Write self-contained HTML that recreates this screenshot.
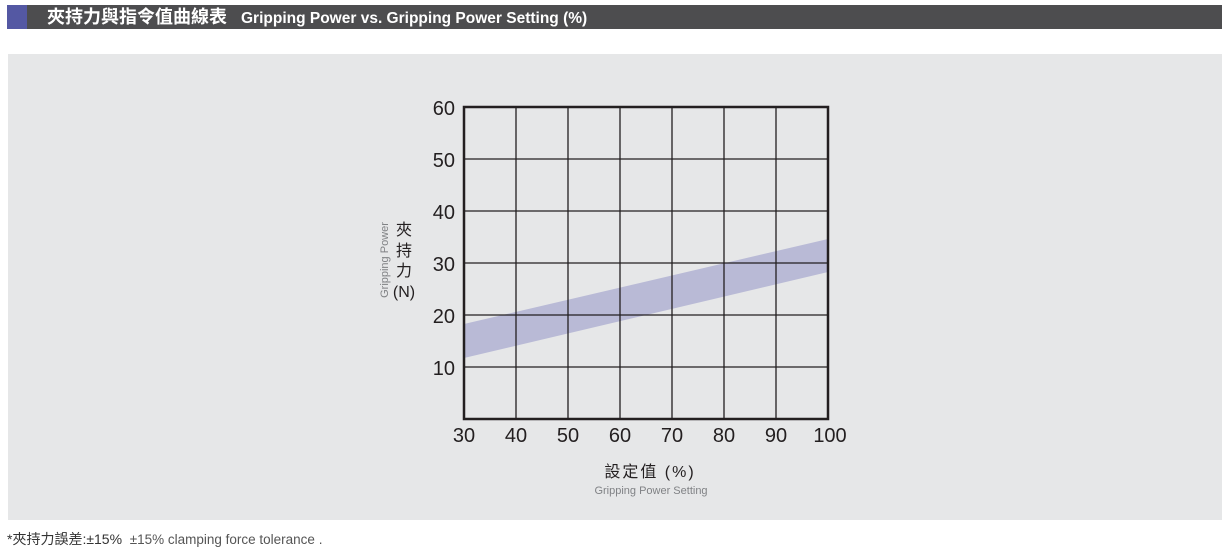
<!DOCTYPE html>
<html><head><meta charset="utf-8"><style>
body{margin:0;width:1229px;height:549px;background:#fff;position:relative;overflow:hidden;font-family:"Liberation Sans","Noto Sans CJK TC",sans-serif}
.hdr{position:absolute;left:7px;top:5px;width:1215px;height:24px;background:#4d4d4f}
.sq{position:absolute;left:7px;top:5px;width:20px;height:24px;background:#5458a3}
.ht{position:absolute;left:47px;top:5px;height:24px;line-height:24px;color:#fff;font-weight:bold;white-space:nowrap}
.panel{position:absolute;left:8px;top:54px;width:1214px;height:466px;background:#e6e7e8}
.foot{position:absolute;left:7px;top:529px;font-size:14px;color:#333;white-space:nowrap}
</style></head><body>
<div class="hdr"></div><div class="sq"></div>
<div class="ht"><span style="font-size:18px">夾持力與指令值曲線表</span><span style="font-size:15.5px;margin-left:14px">Gripping Power vs. Gripping Power Setting (%)</span></div>
<div class="panel"></div>
<svg width="1229" height="549" style="position:absolute;left:0;top:0" font-family="Liberation Sans, Noto Sans CJK TC, sans-serif">
<polygon points="464,324 828,239 828,272 464,358" fill="#b9bad6"/>
<g stroke="#231f20" stroke-width="1.3">
<line x1="516" y1="107" x2="516" y2="419"/><line x1="568" y1="107" x2="568" y2="419"/><line x1="620" y1="107" x2="620" y2="419"/><line x1="672" y1="107" x2="672" y2="419"/><line x1="724" y1="107" x2="724" y2="419"/><line x1="776" y1="107" x2="776" y2="419"/>
<line x1="464" y1="159" x2="828" y2="159"/><line x1="464" y1="211" x2="828" y2="211"/><line x1="464" y1="263" x2="828" y2="263"/><line x1="464" y1="315" x2="828" y2="315"/><line x1="464" y1="367" x2="828" y2="367"/>
</g>
<rect x="464" y="107" width="364" height="312" fill="none" stroke="#231f20" stroke-width="2.5"/>
<g font-size="20" fill="#231f20" text-anchor="end">
<text x="455" y="115">60</text><text x="455" y="167">50</text><text x="455" y="219">40</text><text x="455" y="271">30</text><text x="455" y="323">20</text><text x="455" y="375">10</text>
</g>
<g font-size="20" fill="#231f20" text-anchor="middle">
<text x="464" y="442">30</text><text x="516" y="442">40</text><text x="568" y="442">50</text><text x="620" y="442">60</text><text x="672" y="442">70</text><text x="724" y="442">80</text><text x="776" y="442">90</text><text x="830" y="442">100</text>
</g>
<g font-size="16" fill="#231f20" text-anchor="middle">
<text x="404" y="235">夾</text><text x="404" y="256">持</text><text x="404" y="276">力</text><text x="404" y="297">(N)</text>
</g>
<text transform="translate(388,260) rotate(-90)" font-size="11" fill="#808285" text-anchor="middle">Gripping Power</text>
<text x="650" y="477" font-size="16" fill="#231f20" text-anchor="middle" letter-spacing="2">設定值 (%)</text>
<text x="651" y="494" font-size="11" fill="#808285" text-anchor="middle">Gripping Power Setting</text>
</svg>
<div class="foot">*夾持力誤差:±15% <span style="font-size:13.5px;color:#555">&nbsp;±15% clamping force tolerance .</span></div>
</body></html>
